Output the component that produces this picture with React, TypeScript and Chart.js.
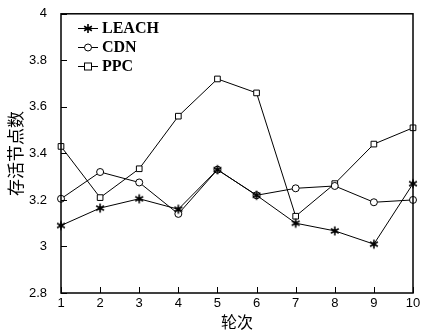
import React, { useEffect, useRef } from "react";
import { Chart, registerables } from "chart.js";

Chart.register(...registerables);

const rounds = ["1", "2", "3", "4", "5", "6", "7", "8", "9", "10"];
const leach = [3.09, 3.165, 3.205, 3.16, 3.33, 3.22, 3.1, 3.067, 3.01, 3.27];
const cdn = [3.205, 3.32, 3.275, 3.14, 3.33, 3.22, 3.25, 3.26, 3.19, 3.2];
const ppc = [3.43, 3.21, 3.334, 3.56, 3.72, 3.66, 3.13, 3.27, 3.44, 3.51];
const seriesNames = ["LEACH", "CDN", "PPC"];
const yTicks = [2.8, 3, 3.2, 3.4, 3.6, 3.8, 4];

const markerStyles = ["star", "circle", "rect"] as const;

function drawMarker(ctx: CanvasRenderingContext2D, style: string, x: number, y: number) {
  ctx.save();
  ctx.strokeStyle = "#000";
  ctx.fillStyle = "#fff";
  ctx.lineWidth = 1;
  if (style === "circle") {
    ctx.beginPath();
    ctx.arc(x, y, 3.5, 0, Math.PI * 2);
    ctx.fill();
    ctx.stroke();
  } else if (style === "rect") {
    ctx.fillRect(x - 3.5, y - 3.5, 7, 7);
    ctx.strokeRect(x - 3.5, y - 3.5, 7, 7);
  } else {
    ctx.lineWidth = 1.6;
    ctx.beginPath();
    for (let i = 0; i < 3; i++) {
      const a = (Math.PI / 3) * i + Math.PI / 2;
      ctx.moveTo(x + Math.cos(a) * 4.5, y + Math.sin(a) * 4.5);
      ctx.lineTo(x - Math.cos(a) * 4.5, y - Math.sin(a) * 4.5);
    }
    ctx.stroke();
    ctx.fillStyle = "#000";
    ctx.beginPath();
    ctx.arc(x, y, 1.8, 0, Math.PI * 2);
    ctx.fill();
  }
  ctx.restore();
}

function makeStarCanvas() {
  const c = document.createElement("canvas");
  c.width = 12;
  c.height = 12;
  const ctx = c.getContext("2d")!;
  drawMarker(ctx, "star", 6, 6);
  return c;
}

const framePlugin = {
  id: "frameTicks",
  afterDraw(chart: any) {
    const { ctx, chartArea, scales } = chart;
    const { left, right, top, bottom } = chartArea;
    ctx.save();
    ctx.strokeStyle = "#000";
    ctx.lineWidth = 1.5;
    ctx.strokeRect(left, top, right - left, bottom - top);
    ctx.lineWidth = 1;
    yTicks.forEach((v) => {
      const py = Math.round(scales.y.getPixelForValue(v)) + 0.5;
      ctx.beginPath();
      ctx.moveTo(left, py);
      ctx.lineTo(left + 6, py);
      ctx.stroke();
    });
    rounds.forEach((_, i) => {
      const px = Math.round(scales.x.getPixelForValue(i)) + 0.5;
      ctx.beginPath();
      ctx.moveTo(px, bottom);
      ctx.lineTo(px, bottom - 6);
      ctx.stroke();
    });
    // legend
    const lx0 = 78;
    const lx1 = 98;
    const ys = [28, 47, 66];
    seriesNames.forEach((name, i) => {
      const y = ys[i];
      ctx.strokeStyle = "#000";
      ctx.lineWidth = 1;
      ctx.beginPath();
      ctx.moveTo(lx0, y + 0.5);
      ctx.lineTo(lx1, y + 0.5);
      ctx.stroke();
      drawMarker(ctx, markerStyles[i], (lx0 + lx1) / 2, y + 0.5);
      ctx.fillStyle = "#000";
      ctx.font = "bold 16px 'Liberation Serif', serif";
      ctx.textBaseline = "middle";
      ctx.textAlign = "left";
      ctx.fillText(name, 102, y + 1);
    });
    ctx.restore();
  },
};

export default function App() {
  const ref = useRef<HTMLCanvasElement>(null);
  useEffect(() => {
    document.body.style.margin = "0";
    const canvas = ref.current!;
    const star = makeStarCanvas();
    const mk = (label: string, data: number[], style: any, radius: number) => ({
      label,
      data,
      borderColor: "#000",
      borderWidth: 1,
      backgroundColor: "#fff",
      pointStyle: style,
      pointRadius: radius,
      pointBorderColor: "#000",
      pointBackgroundColor: "#fff",
      pointBorderWidth: 1,
      tension: 0,
      fill: false,
    });
    const chart = new Chart(canvas, {
      type: "line",
      data: {
        labels: rounds,
        datasets: [
          mk("LEACH", leach, star, 5),
          mk("CDN", cdn, "circle", 3.5),
          mk("PPC", ppc, "rect", 4),
        ],
      },
      options: {
        animation: false,
        responsive: false,
        maintainAspectRatio: false,
        layout: { padding: { left: 0, right: 9, top: 13, bottom: 0 } },
        plugins: { legend: { display: false }, tooltip: { enabled: false } },
        scales: {
          x: {
            type: "category",
            offset: false,
            grid: { display: false, drawTicks: false },
            border: { display: false },
            ticks: {
              padding: 3,
              color: "#000",
              font: { family: "'Liberation Sans', Arial, sans-serif", size: 13 },
              maxRotation: 0,
              autoSkip: false,
            },
            title: {
              display: true,
              text: "轮次",
              color: "#000",
              font: { family: "'Noto Sans CJK SC', sans-serif", size: 16 },
              padding: { top: 0, bottom: 2 },
            },
            afterFit: (s: any) => {
              s.height = 41;
              s.paddingRight = 0;
              s.paddingLeft = 0;
            },
          },
          y: {
            min: 2.8,
            max: 4,
            grid: { display: false },
            border: { display: false },
            afterBuildTicks: (s: any) => {
              s.ticks = yTicks.map((v) => ({ value: v }));
            },
            ticks: {
              padding: 6,
              color: "#000",
              font: { family: "'Liberation Sans', Arial, sans-serif", size: 13 },
              callback: (v: any) => String(Number(Number(v).toFixed(1))),
            },
            title: {
              display: true,
              text: "存活节点数",
              color: "#000",
              font: { family: "'Noto Sans CJK SC', sans-serif", size: 17 },
              padding: { top: 5, bottom: 4 },
            },
            afterFit: (s: any) => {
              s.width = 61;
            },
          },
        },
      },
      plugins: [framePlugin],
    });
    return () => chart.destroy();
  }, []);
  return (
    <div style={{ width: 422, height: 334, background: "#fff" }}>
      <canvas ref={ref} width={422} height={334} />
    </div>
  );
}
